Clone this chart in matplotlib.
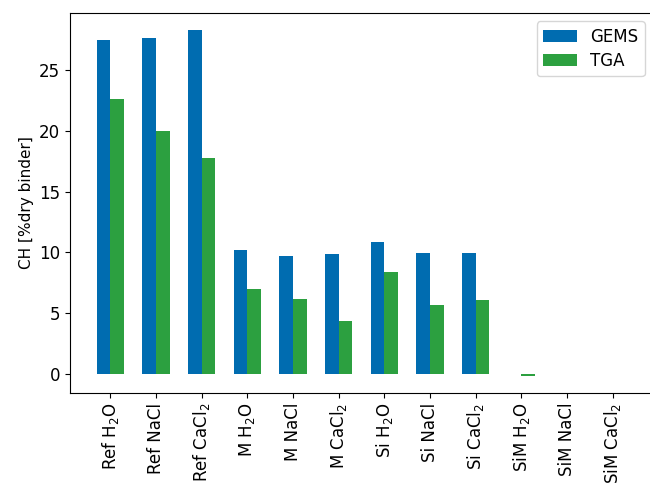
import matplotlib
matplotlib.use("Agg")
import matplotlib.pyplot as plt
import numpy as np

categories = ["Ref H$_2$O", "Ref NaCl", "Ref CaCl$_2$",
              "M H$_2$O", "M NaCl", "M CaCl$_2$",
              "Si H$_2$O", "Si NaCl", "Si CaCl$_2$",
              "SiM H$_2$O", "SiM NaCl", "SiM CaCl$_2$"]
gems = [27.5, 27.7, 28.3, 10.17, 9.7, 9.87, 10.84, 9.95, 9.95, 0.0, 0.0, 0.0]
tga = [22.65, 19.97, 17.77, 6.96, 6.15, 4.32, 8.39, 5.67, 6.08, -0.15, 0.0, 0.0]

blue = "#006cb0"
green = "#2ca040"

fig = plt.figure(figsize=(6.5, 4.86), dpi=100)
ax = fig.add_axes([70/650, 1-393/486, 583/650, 380/486])
x = np.arange(len(categories))
w = 0.3
ax.bar(x - w/2, gems, w, color=blue, label="GEMS")
ax.bar(x + w/2, tga, w, color=green, label="TGA")
ax.set_xticks(x)
ax.set_xticklabels(categories, rotation=90, fontsize=12)
ax.tick_params(axis="y", labelsize=12)
ax.set_ylabel("CH [%dry binder]", fontsize=11)
ax.legend(loc="upper right", fontsize=12, labelspacing=0.35)
fig.savefig("out.png", dpi=100)
